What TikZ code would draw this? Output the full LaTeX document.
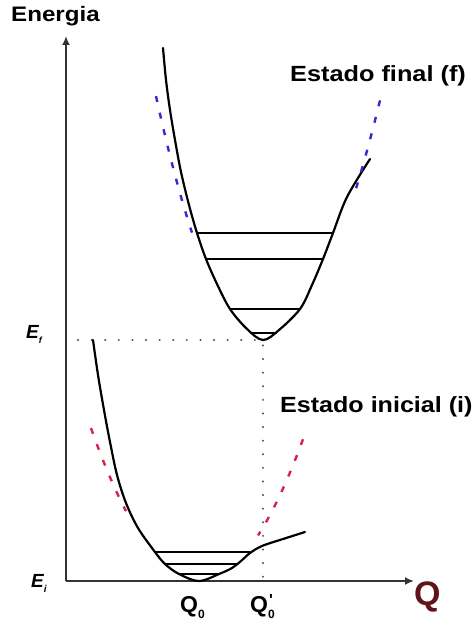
\documentclass[tikz,border=0pt]{standalone}
\usepackage{fontspec}
\newfontfamily\lab{Liberation Sans}
\usetikzlibrary{arrows.meta}
\definecolor{fblue}{RGB}{45,45,205}
\definecolor{ired}{RGB}{215,35,70}
\definecolor{qred}{RGB}{95,20,25}
\begin{document}
\begin{tikzpicture}[x=1pt,y=-1pt,
  curve/.style={line width=2.2pt, line join=round, line cap=round},
  levelline/.style={line width=1.4pt},
  axisline/.style={line width=1.8pt, draw=black!80, -{Latex[length=9pt,width=8pt]}},
  guide/.style={line width=2.2pt, dash pattern=on 0.1pt off 13.5pt, line cap=round, draw=black!70},
  harmf/.style={line width=2.4pt, draw=fblue, dash pattern=on 6pt off 11pt},
  harmi/.style={line width=2.4pt, draw=ired, dash pattern=on 6pt off 11pt},
  lbl/.style={font=\lab\bfseries, inner sep=0pt},
]
\useasboundingbox (0,0) rectangle (475,628);
\fill[white] (0,0) rectangle (475,628);

% axes
\coordinate (O) at (66,581);
\coordinate (Ytop) at (66,36);
\coordinate (Xend) at (414,581);
\draw[axisline] (O) -- (Ytop);
\draw[axisline] (O) -- (Xend);

% guides
\coordinate (Dstart) at (78,340);
\coordinate (Vf) at (263,340);
\coordinate (Vfoot) at (263,581);
\draw[guide] (Dstart) -- (Vf) -- (Vfoot);

% upper (final) potential
\draw[curve] plot[smooth, tension=0.55] coordinates {
  (163,48) (166,80) (170,110) (175,140) (181,172) (189,205) (197,233)
  (206,259) (217,284) (230,309) (247,329) (263,340) (279,330) (300,309)
  (312,285) (323,259) (333,233) (347,197) (370,159)};
\draw[levelline] (197,233) -- (333,233);
\draw[levelline] (206,259) -- (323,259);
\draw[levelline] (230,309) -- (300,309);
\draw[levelline] (250,333) -- (277,333);

% harmonic approximation (final)
\draw[harmf] plot[domain=156:192, samples=25] (\x,{340-0.0213*(\x-263)*(\x-263)});
\draw[harmf] plot[domain=380:356, samples=25] (\x,{340-0.0175*(\x-263)*(\x-263)});

% lower (initial) potential
\draw[curve] plot[smooth, tension=0.55] coordinates {
  (93,340) (98,375) (104,410) (110,442) (117,475) (126,503) (138,528)
  (155,552) (165,564) (179,574) (199,581) (219,574) (232,568) (241,561)
  (250,553) (262,546) (283,539) (305,532)};
\draw[levelline] (155,552) -- (250,552);
\draw[levelline] (165,564) -- (237,564);
\draw[levelline] (179,574) -- (219,574);

% harmonic approximation (initial)
\draw[harmi] plot[domain=91:126, samples=25] (\x,{581-0.0131*(\x-199)*(\x-199)});
\draw[harmi] plot[domain=303:258, samples=25] (\x,{581-0.0131*(\x-199)*(\x-199)});

% labels
\node[lbl, anchor=base west, font=\lab\bfseries\fontsize{21}{21}\selectfont] (energia) at (11,22) {\scalebox{1.15}[1]{Energia}};
\node[lbl, anchor=base west, font=\lab\bfseries\fontsize{22}{22}\selectfont] (estf) at (290,82) {\scalebox{1.15}[1]{Estado final (f)}};
\node[lbl, anchor=base west, font=\lab\bfseries\fontsize{22}{22}\selectfont] (esti) at (280,412) {\scalebox{1.14}[1]{Estado inicial (i)}};
\node[lbl, anchor=base west, font=\lab\bfseries\itshape\fontsize{19}{19}\selectfont] (ef) at (26,338) {E\raisebox{-5pt}{\fontsize{9}{9}\selectfont f}};
\node[lbl, anchor=base west, font=\lab\bfseries\itshape\fontsize{19}{19}\selectfont] (ei) at (31,587) {E\raisebox{-5pt}{\fontsize{10}{10}\selectfont i}};
\node[lbl, anchor=base west, text=qred, font=\lab\bfseries\fontsize{34}{34}\selectfont] (q) at (414,605) {Q};
\node[lbl, anchor=base west, font=\lab\bfseries\fontsize{23}{23}\selectfont] (q0) at (180,612) {Q\raisebox{-6pt}{\fontsize{12}{12}\selectfont 0}};
\node[lbl, anchor=base west, font=\lab\bfseries\fontsize{23}{23}\selectfont] (q0p) at (250,612) {Q\rlap{\kern1pt\raisebox{7pt}{\fontsize{16}{16}\selectfont\textquotesingle}}\raisebox{-6pt}{\fontsize{12}{12}\selectfont 0}};
\end{tikzpicture}
\end{document}
